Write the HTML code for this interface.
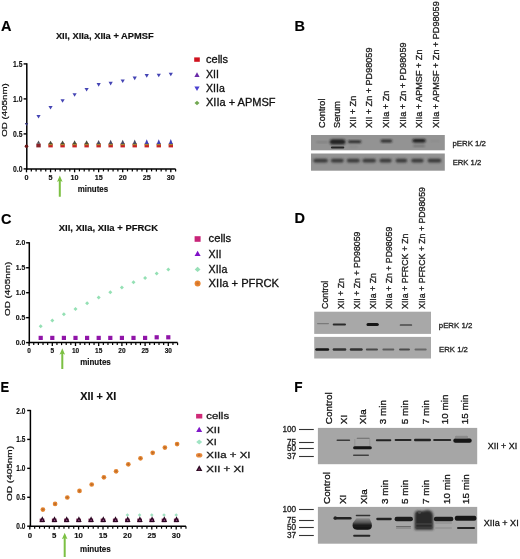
<!DOCTYPE html>
<html><head><meta charset="utf-8"><style>
html,body{margin:0;padding:0;background:#fff;}
body{width:520px;height:559px;overflow:hidden;}
svg{display:block;font-family:"Liberation Sans", sans-serif;will-change:transform;filter:blur(0.3px);}
</style></head><body>
<svg width="520" height="559" viewBox="0 0 520 559">
<rect width="520" height="559" fill="#fff"/>
<text x="1" y="30.8" font-size="14.5" font-weight="bold" text-anchor="start" fill="#000" stroke="#000" stroke-width="0.15">A</text>
<text x="294.6" y="30.5" font-size="14.5" font-weight="bold" text-anchor="start" fill="#000" stroke="#000" stroke-width="0.15">B</text>
<text x="0.9" y="223.6" font-size="14.5" font-weight="bold" text-anchor="start" fill="#000" stroke="#000" stroke-width="0.15">C</text>
<text x="294.6" y="223.4" font-size="14.5" font-weight="bold" text-anchor="start" fill="#000" stroke="#000" stroke-width="0.15">D</text>
<text x="0.6" y="391.9" font-size="14.5" font-weight="bold" text-anchor="start" fill="#000" stroke="#000" stroke-width="0.15" textLength="8.6" lengthAdjust="spacingAndGlyphs">E</text>
<text x="294.2" y="391.7" font-size="14.5" font-weight="bold" text-anchor="start" fill="#000" stroke="#000" stroke-width="0.15" textLength="8.3" lengthAdjust="spacingAndGlyphs">F</text>
<text x="55.9" y="39.4" font-size="9" font-weight="bold" text-anchor="start" fill="#111" stroke="#111" stroke-width="0.15" textLength="97.8" lengthAdjust="spacingAndGlyphs">XII, XIIa, XIIa + APMSF</text>
<line x1="26.8" y1="63.300000000000004" x2="26.8" y2="169.65" stroke="#000" stroke-width="1.5"/>
<line x1="23.6" y1="63.900000000000006" x2="26.8" y2="63.900000000000006" stroke="#000" stroke-width="1.4"/>
<text x="22.4" y="67.104" font-size="8.9" font-weight="bold" text-anchor="end" fill="#111" stroke="#111" stroke-width="0.15" textLength="9.4" lengthAdjust="spacingAndGlyphs">1.5</text>
<line x1="23.6" y1="98.9" x2="26.8" y2="98.9" stroke="#000" stroke-width="1.4"/>
<text x="22.4" y="102.104" font-size="8.9" font-weight="bold" text-anchor="end" fill="#111" stroke="#111" stroke-width="0.15" textLength="9.4" lengthAdjust="spacingAndGlyphs">1.0</text>
<line x1="23.6" y1="133.9" x2="26.8" y2="133.9" stroke="#000" stroke-width="1.4"/>
<text x="22.4" y="137.104" font-size="8.9" font-weight="bold" text-anchor="end" fill="#111" stroke="#111" stroke-width="0.15" textLength="9.4" lengthAdjust="spacingAndGlyphs">0.5</text>
<line x1="23.6" y1="168.9" x2="26.8" y2="168.9" stroke="#000" stroke-width="1.4"/>
<text x="22.4" y="172.104" font-size="8.9" font-weight="bold" text-anchor="end" fill="#111" stroke="#111" stroke-width="0.15" textLength="9.4" lengthAdjust="spacingAndGlyphs">0.0</text>
<line x1="26.05" y1="168.9" x2="175.60999999999999" y2="168.9" stroke="#000" stroke-width="1.5"/>
<line x1="26.5" y1="168.9" x2="26.5" y2="172.3" stroke="#000" stroke-width="1.3"/>
<line x1="31.31" y1="168.9" x2="31.31" y2="171.4" stroke="#000" stroke-width="1.2"/>
<line x1="36.12" y1="168.9" x2="36.12" y2="171.4" stroke="#000" stroke-width="1.2"/>
<line x1="40.93" y1="168.9" x2="40.93" y2="171.4" stroke="#000" stroke-width="1.2"/>
<line x1="45.739999999999995" y1="168.9" x2="45.739999999999995" y2="171.4" stroke="#000" stroke-width="1.2"/>
<line x1="50.55" y1="168.9" x2="50.55" y2="172.3" stroke="#000" stroke-width="1.3"/>
<line x1="55.36" y1="168.9" x2="55.36" y2="171.4" stroke="#000" stroke-width="1.2"/>
<line x1="60.169999999999995" y1="168.9" x2="60.169999999999995" y2="171.4" stroke="#000" stroke-width="1.2"/>
<line x1="64.97999999999999" y1="168.9" x2="64.97999999999999" y2="171.4" stroke="#000" stroke-width="1.2"/>
<line x1="69.78999999999999" y1="168.9" x2="69.78999999999999" y2="171.4" stroke="#000" stroke-width="1.2"/>
<line x1="74.6" y1="168.9" x2="74.6" y2="172.3" stroke="#000" stroke-width="1.3"/>
<line x1="79.41" y1="168.9" x2="79.41" y2="171.4" stroke="#000" stroke-width="1.2"/>
<line x1="84.22" y1="168.9" x2="84.22" y2="171.4" stroke="#000" stroke-width="1.2"/>
<line x1="89.03" y1="168.9" x2="89.03" y2="171.4" stroke="#000" stroke-width="1.2"/>
<line x1="93.83999999999999" y1="168.9" x2="93.83999999999999" y2="171.4" stroke="#000" stroke-width="1.2"/>
<line x1="98.64999999999999" y1="168.9" x2="98.64999999999999" y2="172.3" stroke="#000" stroke-width="1.3"/>
<line x1="103.46" y1="168.9" x2="103.46" y2="171.4" stroke="#000" stroke-width="1.2"/>
<line x1="108.27" y1="168.9" x2="108.27" y2="171.4" stroke="#000" stroke-width="1.2"/>
<line x1="113.08" y1="168.9" x2="113.08" y2="171.4" stroke="#000" stroke-width="1.2"/>
<line x1="117.88999999999999" y1="168.9" x2="117.88999999999999" y2="171.4" stroke="#000" stroke-width="1.2"/>
<line x1="122.69999999999999" y1="168.9" x2="122.69999999999999" y2="172.3" stroke="#000" stroke-width="1.3"/>
<line x1="127.50999999999999" y1="168.9" x2="127.50999999999999" y2="171.4" stroke="#000" stroke-width="1.2"/>
<line x1="132.32" y1="168.9" x2="132.32" y2="171.4" stroke="#000" stroke-width="1.2"/>
<line x1="137.13" y1="168.9" x2="137.13" y2="171.4" stroke="#000" stroke-width="1.2"/>
<line x1="141.94" y1="168.9" x2="141.94" y2="171.4" stroke="#000" stroke-width="1.2"/>
<line x1="146.75" y1="168.9" x2="146.75" y2="172.3" stroke="#000" stroke-width="1.3"/>
<line x1="151.56" y1="168.9" x2="151.56" y2="171.4" stroke="#000" stroke-width="1.2"/>
<line x1="156.36999999999998" y1="168.9" x2="156.36999999999998" y2="171.4" stroke="#000" stroke-width="1.2"/>
<line x1="161.17999999999998" y1="168.9" x2="161.17999999999998" y2="171.4" stroke="#000" stroke-width="1.2"/>
<line x1="165.98999999999998" y1="168.9" x2="165.98999999999998" y2="171.4" stroke="#000" stroke-width="1.2"/>
<line x1="170.79999999999998" y1="168.9" x2="170.79999999999998" y2="172.3" stroke="#000" stroke-width="1.3"/>
<line x1="175.60999999999999" y1="168.9" x2="175.60999999999999" y2="171.4" stroke="#000" stroke-width="1.2"/>
<text x="26.5" y="180.0" font-size="7.2" font-weight="bold" text-anchor="middle" fill="#111" stroke="#111" stroke-width="0.15">0</text>
<text x="50.55" y="180.0" font-size="7.2" font-weight="bold" text-anchor="middle" fill="#111" stroke="#111" stroke-width="0.15">5</text>
<text x="74.6" y="180.0" font-size="7.2" font-weight="bold" text-anchor="middle" fill="#111" stroke="#111" stroke-width="0.15">10</text>
<text x="98.64999999999999" y="180.0" font-size="7.2" font-weight="bold" text-anchor="middle" fill="#111" stroke="#111" stroke-width="0.15">15</text>
<text x="122.69999999999999" y="180.0" font-size="7.2" font-weight="bold" text-anchor="middle" fill="#111" stroke="#111" stroke-width="0.15">20</text>
<text x="146.75" y="180.0" font-size="7.2" font-weight="bold" text-anchor="middle" fill="#111" stroke="#111" stroke-width="0.15">25</text>
<text x="170.79999999999998" y="180.0" font-size="7.2" font-weight="bold" text-anchor="middle" fill="#111" stroke="#111" stroke-width="0.15">30</text>
<text x="77.8" y="192.4" font-size="8.2" font-weight="bold" text-anchor="start" fill="#111" stroke="#111" stroke-width="0.15" textLength="30.3" lengthAdjust="spacingAndGlyphs">minutes</text>
<text transform="translate(7.4,136.7) rotate(-90)" font-size="7.6" font-weight="normal" text-anchor="start" fill="#111" stroke="#111" stroke-width="0.22" textLength="53.4" lengthAdjust="spacingAndGlyphs">OD (405nm)</text>
<path d="M58.8,181.0 L58.8,196.8 L60.8,196.8 L60.8,181.0 L62.599999999999994,182.0 L59.8,175.5 L57.0,182.0 Z" fill="#7cc043"/>
<path d="M24.8,123.1 L26.5,126.1 L28.2,123.1 Z" fill="#303070"/>
<path d="M36.425,115.0 L38.525,118.6 L40.625,115.0 Z" fill="#4444b4"/>
<path d="M48.449999999999996,106.0 L50.55,109.6 L52.65,106.0 Z" fill="#4444b4"/>
<path d="M60.474999999999994,99.2 L62.574999999999996,102.8 L64.675,99.2 Z" fill="#4444b4"/>
<path d="M72.5,93.2 L74.6,96.8 L76.69999999999999,93.2 Z" fill="#4444b4"/>
<path d="M84.525,87.9 L86.625,91.5 L88.725,87.9 Z" fill="#4444b4"/>
<path d="M96.55,83.10000000000001 L98.64999999999999,86.7 L100.74999999999999,83.10000000000001 Z" fill="#4444b4"/>
<path d="M108.57499999999999,81.8 L110.67499999999998,85.39999999999999 L112.77499999999998,81.8 Z" fill="#4444b4"/>
<path d="M120.6,79.5 L122.69999999999999,83.1 L124.79999999999998,79.5 Z" fill="#4444b4"/>
<path d="M132.625,76.60000000000001 L134.725,80.2 L136.825,76.60000000000001 Z" fill="#4444b4"/>
<path d="M144.65,74.10000000000001 L146.75,77.7 L148.85,74.10000000000001 Z" fill="#4444b4"/>
<path d="M156.67499999999998,73.7 L158.77499999999998,77.3 L160.87499999999997,73.7 Z" fill="#4444b4"/>
<path d="M168.7,72.7 L170.79999999999998,76.3 L172.89999999999998,72.7 Z" fill="#4444b4"/>
<circle cx="26.5" cy="146.2" r="1.8" fill="#6a1a1a"/>
<rect x="36.324999999999996" y="143.6" width="4.4" height="3.8" fill="#8a2228"/>
<path d="M36.725,143.79999999999998 L38.525,140.6 L40.324999999999996,143.79999999999998 Z" fill="#505058"/>
<rect x="48.349999999999994" y="143.6" width="4.4" height="3.8" fill="#c82222"/>
<rect x="48.55" y="143.6" width="4.0" height="1.6" fill="#a08a34"/>
<path d="M48.55,143.9 L50.55,140.63636363636365 L52.55,143.9 Z" fill="#4a4a3a"/>
<rect x="60.37499999999999" y="143.6" width="4.4" height="3.8" fill="#c82222"/>
<rect x="60.574999999999996" y="143.6" width="4.0" height="1.6" fill="#a08a34"/>
<path d="M60.574999999999996,143.89999999999998 L62.574999999999996,140.4727272727273 L64.57499999999999,143.89999999999998 Z" fill="#4a4a3a"/>
<rect x="72.39999999999999" y="143.6" width="4.4" height="3.8" fill="#c82222"/>
<rect x="72.6" y="143.6" width="4.0" height="1.6" fill="#a08a34"/>
<path d="M72.6,143.90000000000003 L74.6,140.3090909090909 L76.6,143.90000000000003 Z" fill="#4a4a3a"/>
<rect x="84.425" y="143.6" width="4.4" height="3.8" fill="#c82222"/>
<rect x="84.625" y="143.6" width="4.0" height="1.6" fill="#a08a34"/>
<path d="M84.625,143.9 L86.625,140.14545454545456 L88.625,143.9 Z" fill="#4a4a3a"/>
<rect x="96.44999999999999" y="143.6" width="4.4" height="3.8" fill="#c82222"/>
<rect x="96.64999999999999" y="143.6" width="4.0" height="1.6" fill="#a08a34"/>
<path d="M96.64999999999999,143.89999999999998 L98.64999999999999,139.9818181818182 L100.64999999999999,143.89999999999998 Z" fill="#4a4a62"/>
<rect x="108.47499999999998" y="143.6" width="4.4" height="3.8" fill="#c82222"/>
<rect x="108.67499999999998" y="143.6" width="4.0" height="1.6" fill="#a08a34"/>
<path d="M108.67499999999998,143.9 L110.67499999999998,139.81818181818184 L112.67499999999998,143.9 Z" fill="#4a4a62"/>
<rect x="120.49999999999999" y="143.6" width="4.4" height="3.8" fill="#c82222"/>
<rect x="120.69999999999999" y="143.6" width="4.0" height="1.6" fill="#a08a34"/>
<path d="M120.69999999999999,143.9 L122.69999999999999,139.65454545454546 L124.69999999999999,143.9 Z" fill="#4a4a62"/>
<rect x="132.525" y="143.6" width="4.4" height="3.8" fill="#c82222"/>
<rect x="132.725" y="143.6" width="4.0" height="1.6" fill="#a08a34"/>
<path d="M132.725,143.89999999999998 L134.725,139.4909090909091 L136.725,143.89999999999998 Z" fill="#4a4a62"/>
<rect x="144.55" y="143.6" width="4.4" height="3.8" fill="#c82222"/>
<rect x="144.75" y="143.6" width="4.0" height="1.6" fill="#a08a34"/>
<path d="M144.75,143.9 L146.75,139.32727272727274 L148.75,143.9 Z" fill="#4040b4"/>
<rect x="156.575" y="143.6" width="4.4" height="3.8" fill="#c82222"/>
<rect x="156.77499999999998" y="143.6" width="4.0" height="1.6" fill="#a08a34"/>
<path d="M156.77499999999998,143.90000000000003 L158.77499999999998,139.16363636363639 L160.77499999999998,143.90000000000003 Z" fill="#4040b4"/>
<rect x="168.6" y="143.6" width="4.4" height="3.8" fill="#c82222"/>
<rect x="168.79999999999998" y="143.6" width="4.0" height="1.6" fill="#a08a34"/>
<path d="M168.79999999999998,143.89999999999998 L170.79999999999998,139.0 L172.79999999999998,143.89999999999998 Z" fill="#4040b4"/>
<rect x="194.2" y="57.4" width="5.6" height="4.4" fill="#d0121e"/>
<path d="M194.4,76.89999999999999 L197.0,72.3 L199.6,76.89999999999999 Z" fill="#6a2aa8"/>
<path d="M194.4,86.6 L197.0,91.0 L199.6,86.6 Z" fill="#4a40d0"/>
<path d="M194.5,103.0 L197.0,100.8 L199.5,103.0 L197.0,105.2 Z" fill="#72a852"/>
<text x="206.0" y="63.0" font-size="10.6" font-weight="normal" text-anchor="start" fill="#111" stroke="#111" stroke-width="0.3" textLength="22.1" lengthAdjust="spacingAndGlyphs">cells</text>
<text x="206.0" y="78.3" font-size="10.6" font-weight="normal" text-anchor="start" fill="#111" stroke="#111" stroke-width="0.3">XII</text>
<text x="206.0" y="92.3" font-size="10.6" font-weight="normal" text-anchor="start" fill="#111" stroke="#111" stroke-width="0.3">XIIa</text>
<text x="206.0" y="106.3" font-size="10.6" font-weight="normal" text-anchor="start" fill="#111" stroke="#111" stroke-width="0.3" textLength="69.6" lengthAdjust="spacingAndGlyphs">XIIa + APMSF</text>
<text x="58.8" y="231.2" font-size="9" font-weight="bold" text-anchor="start" fill="#111" stroke="#111" stroke-width="0.15" textLength="99.2" lengthAdjust="spacingAndGlyphs">XII, XIIa, XIIa + PFRCK</text>
<line x1="29.3" y1="242.20000000000002" x2="29.3" y2="343.35" stroke="#000" stroke-width="1.5"/>
<line x1="26.1" y1="242.8" x2="29.3" y2="242.8" stroke="#000" stroke-width="1.4"/>
<text x="25.3" y="245.17600000000002" font-size="6.6" font-weight="bold" text-anchor="end" fill="#111" stroke="#111" stroke-width="0.15" textLength="9.6" lengthAdjust="spacingAndGlyphs">2.0</text>
<line x1="26.1" y1="267.75" x2="29.3" y2="267.75" stroke="#000" stroke-width="1.4"/>
<text x="25.3" y="270.126" font-size="6.6" font-weight="bold" text-anchor="end" fill="#111" stroke="#111" stroke-width="0.15" textLength="9.6" lengthAdjust="spacingAndGlyphs">1.5</text>
<line x1="26.1" y1="292.70000000000005" x2="29.3" y2="292.70000000000005" stroke="#000" stroke-width="1.4"/>
<text x="25.3" y="295.076" font-size="6.6" font-weight="bold" text-anchor="end" fill="#111" stroke="#111" stroke-width="0.15" textLength="9.6" lengthAdjust="spacingAndGlyphs">1.0</text>
<line x1="26.1" y1="317.65000000000003" x2="29.3" y2="317.65000000000003" stroke="#000" stroke-width="1.4"/>
<text x="25.3" y="320.026" font-size="6.6" font-weight="bold" text-anchor="end" fill="#111" stroke="#111" stroke-width="0.15" textLength="9.6" lengthAdjust="spacingAndGlyphs">0.5</text>
<line x1="26.1" y1="342.6" x2="29.3" y2="342.6" stroke="#000" stroke-width="1.4"/>
<text x="25.3" y="344.976" font-size="6.6" font-weight="bold" text-anchor="end" fill="#111" stroke="#111" stroke-width="0.15" textLength="9.6" lengthAdjust="spacingAndGlyphs">0.0</text>
<line x1="28.55" y1="342.6" x2="177.57999999999998" y2="342.6" stroke="#000" stroke-width="1.5"/>
<line x1="29.1" y1="342.6" x2="29.1" y2="346.0" stroke="#000" stroke-width="1.3"/>
<line x1="33.74" y1="342.6" x2="33.74" y2="345.1" stroke="#000" stroke-width="1.2"/>
<line x1="38.38" y1="342.6" x2="38.38" y2="345.1" stroke="#000" stroke-width="1.2"/>
<line x1="43.019999999999996" y1="342.6" x2="43.019999999999996" y2="345.1" stroke="#000" stroke-width="1.2"/>
<line x1="47.66" y1="342.6" x2="47.66" y2="345.1" stroke="#000" stroke-width="1.2"/>
<line x1="52.3" y1="342.6" x2="52.3" y2="346.0" stroke="#000" stroke-width="1.3"/>
<line x1="56.94" y1="342.6" x2="56.94" y2="345.1" stroke="#000" stroke-width="1.2"/>
<line x1="61.58" y1="342.6" x2="61.58" y2="345.1" stroke="#000" stroke-width="1.2"/>
<line x1="66.22" y1="342.6" x2="66.22" y2="345.1" stroke="#000" stroke-width="1.2"/>
<line x1="70.86" y1="342.6" x2="70.86" y2="345.1" stroke="#000" stroke-width="1.2"/>
<line x1="75.5" y1="342.6" x2="75.5" y2="346.0" stroke="#000" stroke-width="1.3"/>
<line x1="80.14" y1="342.6" x2="80.14" y2="345.1" stroke="#000" stroke-width="1.2"/>
<line x1="84.78" y1="342.6" x2="84.78" y2="345.1" stroke="#000" stroke-width="1.2"/>
<line x1="89.41999999999999" y1="342.6" x2="89.41999999999999" y2="345.1" stroke="#000" stroke-width="1.2"/>
<line x1="94.06" y1="342.6" x2="94.06" y2="345.1" stroke="#000" stroke-width="1.2"/>
<line x1="98.69999999999999" y1="342.6" x2="98.69999999999999" y2="346.0" stroke="#000" stroke-width="1.3"/>
<line x1="103.34" y1="342.6" x2="103.34" y2="345.1" stroke="#000" stroke-width="1.2"/>
<line x1="107.97999999999999" y1="342.6" x2="107.97999999999999" y2="345.1" stroke="#000" stroke-width="1.2"/>
<line x1="112.62" y1="342.6" x2="112.62" y2="345.1" stroke="#000" stroke-width="1.2"/>
<line x1="117.25999999999999" y1="342.6" x2="117.25999999999999" y2="345.1" stroke="#000" stroke-width="1.2"/>
<line x1="121.9" y1="342.6" x2="121.9" y2="346.0" stroke="#000" stroke-width="1.3"/>
<line x1="126.53999999999999" y1="342.6" x2="126.53999999999999" y2="345.1" stroke="#000" stroke-width="1.2"/>
<line x1="131.18" y1="342.6" x2="131.18" y2="345.1" stroke="#000" stroke-width="1.2"/>
<line x1="135.82" y1="342.6" x2="135.82" y2="345.1" stroke="#000" stroke-width="1.2"/>
<line x1="140.45999999999998" y1="342.6" x2="140.45999999999998" y2="345.1" stroke="#000" stroke-width="1.2"/>
<line x1="145.1" y1="342.6" x2="145.1" y2="346.0" stroke="#000" stroke-width="1.3"/>
<line x1="149.73999999999998" y1="342.6" x2="149.73999999999998" y2="345.1" stroke="#000" stroke-width="1.2"/>
<line x1="154.38" y1="342.6" x2="154.38" y2="345.1" stroke="#000" stroke-width="1.2"/>
<line x1="159.01999999999998" y1="342.6" x2="159.01999999999998" y2="345.1" stroke="#000" stroke-width="1.2"/>
<line x1="163.66" y1="342.6" x2="163.66" y2="345.1" stroke="#000" stroke-width="1.2"/>
<line x1="168.29999999999998" y1="342.6" x2="168.29999999999998" y2="346.0" stroke="#000" stroke-width="1.3"/>
<line x1="172.94" y1="342.6" x2="172.94" y2="345.1" stroke="#000" stroke-width="1.2"/>
<line x1="177.57999999999998" y1="342.6" x2="177.57999999999998" y2="345.1" stroke="#000" stroke-width="1.2"/>
<text x="29.1" y="353.2" font-size="6.5" font-weight="bold" text-anchor="middle" fill="#111" stroke="#111" stroke-width="0.15">0</text>
<text x="52.3" y="353.2" font-size="6.5" font-weight="bold" text-anchor="middle" fill="#111" stroke="#111" stroke-width="0.15">5</text>
<text x="75.5" y="353.2" font-size="6.5" font-weight="bold" text-anchor="middle" fill="#111" stroke="#111" stroke-width="0.15">10</text>
<text x="98.69999999999999" y="353.2" font-size="6.5" font-weight="bold" text-anchor="middle" fill="#111" stroke="#111" stroke-width="0.15">15</text>
<text x="121.9" y="353.2" font-size="6.5" font-weight="bold" text-anchor="middle" fill="#111" stroke="#111" stroke-width="0.15">20</text>
<text x="145.1" y="353.2" font-size="6.5" font-weight="bold" text-anchor="middle" fill="#111" stroke="#111" stroke-width="0.15">25</text>
<text x="168.29999999999998" y="353.2" font-size="6.5" font-weight="bold" text-anchor="middle" fill="#111" stroke="#111" stroke-width="0.15">30</text>
<text x="80.2" y="365.2" font-size="8.2" font-weight="bold" text-anchor="start" fill="#111" stroke="#111" stroke-width="0.15" textLength="30.6" lengthAdjust="spacingAndGlyphs">minutes</text>
<text transform="translate(9.8,316.0) rotate(-90)" font-size="7.6" font-weight="normal" text-anchor="start" fill="#111" stroke="#111" stroke-width="0.22" textLength="54.3" lengthAdjust="spacingAndGlyphs">OD (405nm)</text>
<path d="M61.3,353.8 L61.3,369.0 L63.3,369.0 L63.3,353.8 L65.1,354.8 L62.3,348.3 L59.5,354.8 Z" fill="#7cc043"/>
<path d="M38.7,326.3 L40.7,324.3 L42.7,326.3 L40.7,328.3 Z" fill="#94e0b4"/>
<path d="M50.3,320.6 L52.3,318.6 L54.3,320.6 L52.3,322.6 Z" fill="#94e0b4"/>
<path d="M61.9,314.2 L63.9,312.2 L65.9,314.2 L63.9,316.2 Z" fill="#94e0b4"/>
<path d="M73.5,309.0 L75.5,307.0 L77.5,309.0 L75.5,311.0 Z" fill="#94e0b4"/>
<path d="M85.1,303.3 L87.1,301.3 L89.1,303.3 L87.1,305.3 Z" fill="#94e0b4"/>
<path d="M96.69999999999999,297.5 L98.69999999999999,295.5 L100.69999999999999,297.5 L98.69999999999999,299.5 Z" fill="#94e0b4"/>
<path d="M108.30000000000001,292.3 L110.30000000000001,290.3 L112.30000000000001,292.3 L110.30000000000001,294.3 Z" fill="#94e0b4"/>
<path d="M119.9,287.4 L121.9,285.4 L123.9,287.4 L121.9,289.4 Z" fill="#94e0b4"/>
<path d="M131.5,282.2 L133.5,280.2 L135.5,282.2 L133.5,284.2 Z" fill="#94e0b4"/>
<path d="M143.1,277.9 L145.1,275.9 L147.1,277.9 L145.1,279.9 Z" fill="#94e0b4"/>
<path d="M154.7,273.6 L156.7,271.6 L158.7,273.6 L156.7,275.6 Z" fill="#94e0b4"/>
<path d="M166.29999999999998,269.5 L168.29999999999998,267.5 L170.29999999999998,269.5 L168.29999999999998,271.5 Z" fill="#94e0b4"/>
<rect x="38.6" y="335.79999999999995" width="4.2" height="4.2" fill="#9014a8"/>
<rect x="50.199999999999996" y="335.79999999999995" width="4.2" height="4.2" fill="#9014a8"/>
<rect x="61.8" y="335.79999999999995" width="4.2" height="4.2" fill="#9014a8"/>
<rect x="73.4" y="335.79999999999995" width="4.2" height="4.2" fill="#9014a8"/>
<rect x="85.0" y="335.79999999999995" width="4.2" height="4.2" fill="#9014a8"/>
<rect x="96.6" y="335.79999999999995" width="4.2" height="4.2" fill="#9014a8"/>
<rect x="108.20000000000002" y="335.79999999999995" width="4.2" height="4.2" fill="#9014a8"/>
<rect x="119.80000000000001" y="335.79999999999995" width="4.2" height="4.2" fill="#9014a8"/>
<rect x="131.4" y="335.79999999999995" width="4.2" height="4.2" fill="#9014a8"/>
<rect x="143.0" y="335.79999999999995" width="4.2" height="4.2" fill="#9014a8"/>
<rect x="154.6" y="335.2" width="4.2" height="4.2" fill="#9014a8"/>
<rect x="166.2" y="335.2" width="4.2" height="4.2" fill="#9014a8"/>
<rect x="194.6" y="236.2" width="6.0" height="5.6" fill="#c82478"/>
<path d="M194.6,255.9 L197.6,250.70000000000002 L200.6,255.9 Z" fill="#8010c8"/>
<path d="M194.7,269.4 L197.6,266.7 L200.5,269.4 L197.6,272.09999999999997 Z" fill="#98e0b8"/>
<circle cx="197.6" cy="283.4" r="3.0" fill="#e8842e"/>
<circle cx="197.6" cy="283.4" r="1.2" fill="#c87030"/>
<text x="208.6" y="242.4" font-size="10.6" font-weight="normal" text-anchor="start" fill="#111" stroke="#111" stroke-width="0.3" textLength="22.5" lengthAdjust="spacingAndGlyphs">cells</text>
<text x="208.6" y="257.6" font-size="10.6" font-weight="normal" text-anchor="start" fill="#111" stroke="#111" stroke-width="0.3">XII</text>
<text x="208.6" y="273.0" font-size="10.6" font-weight="normal" text-anchor="start" fill="#111" stroke="#111" stroke-width="0.3">XIIa</text>
<text x="208.6" y="287.2" font-size="10.6" font-weight="normal" text-anchor="start" fill="#111" stroke="#111" stroke-width="0.3" textLength="70.4" lengthAdjust="spacingAndGlyphs">XIIa + PFRCK</text>
<text x="80.2" y="400.0" font-size="10.4" font-weight="bold" text-anchor="start" fill="#111" stroke="#111" stroke-width="0.15" textLength="36.0" lengthAdjust="spacingAndGlyphs">XII + XI</text>
<line x1="30.4" y1="409.90000000000003" x2="30.4" y2="526.95" stroke="#000" stroke-width="1.5"/>
<line x1="27.2" y1="410.50000000000006" x2="30.4" y2="410.50000000000006" stroke="#000" stroke-width="1.4"/>
<text x="25.3" y="413.52400000000006" font-size="8.4" font-weight="bold" text-anchor="end" fill="#111" stroke="#111" stroke-width="0.15" textLength="9.0" lengthAdjust="spacingAndGlyphs">2.0</text>
<line x1="27.2" y1="439.42500000000007" x2="30.4" y2="439.42500000000007" stroke="#000" stroke-width="1.4"/>
<text x="25.3" y="442.44900000000007" font-size="8.4" font-weight="bold" text-anchor="end" fill="#111" stroke="#111" stroke-width="0.15" textLength="9.0" lengthAdjust="spacingAndGlyphs">1.5</text>
<line x1="27.2" y1="468.35" x2="30.4" y2="468.35" stroke="#000" stroke-width="1.4"/>
<text x="25.3" y="471.374" font-size="8.4" font-weight="bold" text-anchor="end" fill="#111" stroke="#111" stroke-width="0.15" textLength="9.0" lengthAdjust="spacingAndGlyphs">1.0</text>
<line x1="27.2" y1="497.27500000000003" x2="30.4" y2="497.27500000000003" stroke="#000" stroke-width="1.4"/>
<text x="25.3" y="500.29900000000004" font-size="8.4" font-weight="bold" text-anchor="end" fill="#111" stroke="#111" stroke-width="0.15" textLength="9.0" lengthAdjust="spacingAndGlyphs">0.5</text>
<line x1="27.2" y1="526.2" x2="30.4" y2="526.2" stroke="#000" stroke-width="1.4"/>
<text x="25.3" y="529.224" font-size="8.4" font-weight="bold" text-anchor="end" fill="#111" stroke="#111" stroke-width="0.15" textLength="9.0" lengthAdjust="spacingAndGlyphs">0.0</text>
<line x1="29.65" y1="526.2" x2="185.96" y2="526.2" stroke="#000" stroke-width="1.5"/>
<line x1="29.8" y1="526.2" x2="29.8" y2="529.6" stroke="#000" stroke-width="1.3"/>
<line x1="34.68" y1="526.2" x2="34.68" y2="528.7" stroke="#000" stroke-width="1.2"/>
<line x1="39.56" y1="526.2" x2="39.56" y2="528.7" stroke="#000" stroke-width="1.2"/>
<line x1="44.44" y1="526.2" x2="44.44" y2="528.7" stroke="#000" stroke-width="1.2"/>
<line x1="49.32" y1="526.2" x2="49.32" y2="528.7" stroke="#000" stroke-width="1.2"/>
<line x1="54.2" y1="526.2" x2="54.2" y2="529.6" stroke="#000" stroke-width="1.3"/>
<line x1="59.08" y1="526.2" x2="59.08" y2="528.7" stroke="#000" stroke-width="1.2"/>
<line x1="63.959999999999994" y1="526.2" x2="63.959999999999994" y2="528.7" stroke="#000" stroke-width="1.2"/>
<line x1="68.84" y1="526.2" x2="68.84" y2="528.7" stroke="#000" stroke-width="1.2"/>
<line x1="73.72" y1="526.2" x2="73.72" y2="528.7" stroke="#000" stroke-width="1.2"/>
<line x1="78.6" y1="526.2" x2="78.6" y2="529.6" stroke="#000" stroke-width="1.3"/>
<line x1="83.48" y1="526.2" x2="83.48" y2="528.7" stroke="#000" stroke-width="1.2"/>
<line x1="88.36" y1="526.2" x2="88.36" y2="528.7" stroke="#000" stroke-width="1.2"/>
<line x1="93.24" y1="526.2" x2="93.24" y2="528.7" stroke="#000" stroke-width="1.2"/>
<line x1="98.11999999999999" y1="526.2" x2="98.11999999999999" y2="528.7" stroke="#000" stroke-width="1.2"/>
<line x1="103.0" y1="526.2" x2="103.0" y2="529.6" stroke="#000" stroke-width="1.3"/>
<line x1="107.88" y1="526.2" x2="107.88" y2="528.7" stroke="#000" stroke-width="1.2"/>
<line x1="112.75999999999999" y1="526.2" x2="112.75999999999999" y2="528.7" stroke="#000" stroke-width="1.2"/>
<line x1="117.64" y1="526.2" x2="117.64" y2="528.7" stroke="#000" stroke-width="1.2"/>
<line x1="122.52" y1="526.2" x2="122.52" y2="528.7" stroke="#000" stroke-width="1.2"/>
<line x1="127.39999999999999" y1="526.2" x2="127.39999999999999" y2="529.6" stroke="#000" stroke-width="1.3"/>
<line x1="132.28" y1="526.2" x2="132.28" y2="528.7" stroke="#000" stroke-width="1.2"/>
<line x1="137.16" y1="526.2" x2="137.16" y2="528.7" stroke="#000" stroke-width="1.2"/>
<line x1="142.04" y1="526.2" x2="142.04" y2="528.7" stroke="#000" stroke-width="1.2"/>
<line x1="146.92000000000002" y1="526.2" x2="146.92000000000002" y2="528.7" stroke="#000" stroke-width="1.2"/>
<line x1="151.8" y1="526.2" x2="151.8" y2="529.6" stroke="#000" stroke-width="1.3"/>
<line x1="156.68" y1="526.2" x2="156.68" y2="528.7" stroke="#000" stroke-width="1.2"/>
<line x1="161.56" y1="526.2" x2="161.56" y2="528.7" stroke="#000" stroke-width="1.2"/>
<line x1="166.44" y1="526.2" x2="166.44" y2="528.7" stroke="#000" stroke-width="1.2"/>
<line x1="171.32000000000002" y1="526.2" x2="171.32000000000002" y2="528.7" stroke="#000" stroke-width="1.2"/>
<line x1="176.20000000000002" y1="526.2" x2="176.20000000000002" y2="529.6" stroke="#000" stroke-width="1.3"/>
<line x1="181.08" y1="526.2" x2="181.08" y2="528.7" stroke="#000" stroke-width="1.2"/>
<line x1="185.96" y1="526.2" x2="185.96" y2="528.7" stroke="#000" stroke-width="1.2"/>
<text x="29.8" y="538.0" font-size="7.8" font-weight="bold" text-anchor="middle" fill="#111" stroke="#111" stroke-width="0.15">0</text>
<text x="54.2" y="538.0" font-size="7.8" font-weight="bold" text-anchor="middle" fill="#111" stroke="#111" stroke-width="0.15">5</text>
<text x="78.6" y="538.0" font-size="7.8" font-weight="bold" text-anchor="middle" fill="#111" stroke="#111" stroke-width="0.15">10</text>
<text x="103.0" y="538.0" font-size="7.8" font-weight="bold" text-anchor="middle" fill="#111" stroke="#111" stroke-width="0.15">15</text>
<text x="127.39999999999999" y="538.0" font-size="7.8" font-weight="bold" text-anchor="middle" fill="#111" stroke="#111" stroke-width="0.15">20</text>
<text x="151.8" y="538.0" font-size="7.8" font-weight="bold" text-anchor="middle" fill="#111" stroke="#111" stroke-width="0.15">25</text>
<text x="176.20000000000002" y="538.0" font-size="7.8" font-weight="bold" text-anchor="middle" fill="#111" stroke="#111" stroke-width="0.15">30</text>
<text x="80.0" y="552.0" font-size="8.2" font-weight="bold" text-anchor="start" fill="#111" stroke="#111" stroke-width="0.15" textLength="30.8" lengthAdjust="spacingAndGlyphs">minutes</text>
<text transform="translate(12.1,500.9) rotate(-90)" font-size="7.6" font-weight="normal" text-anchor="start" fill="#111" stroke="#111" stroke-width="0.22" textLength="54.9" lengthAdjust="spacingAndGlyphs">OD (405nm)</text>
<path d="M63.7,538.3 L63.7,557.0 L65.7,557.0 L65.7,538.3 L67.5,539.3 L64.7,532.8 L61.900000000000006,539.3 Z" fill="#7cc043"/>
<circle cx="42.9" cy="509.6" r="2.35" fill="#e2832e"/>
<circle cx="42.9" cy="509.6" r="1.0" fill="#b8692a"/>
<circle cx="55.099999999999994" cy="503.90000000000003" r="2.35" fill="#e2832e"/>
<circle cx="55.099999999999994" cy="503.90000000000003" r="1.0" fill="#b8692a"/>
<circle cx="67.3" cy="497.5" r="2.35" fill="#e2832e"/>
<circle cx="67.3" cy="497.5" r="1.0" fill="#b8692a"/>
<circle cx="79.5" cy="490.90000000000003" r="2.35" fill="#e2832e"/>
<circle cx="79.5" cy="490.90000000000003" r="1.0" fill="#b8692a"/>
<circle cx="91.7" cy="484.5" r="2.35" fill="#e2832e"/>
<circle cx="91.7" cy="484.5" r="1.0" fill="#b8692a"/>
<circle cx="103.89999999999999" cy="477.3" r="2.35" fill="#e2832e"/>
<circle cx="103.89999999999999" cy="477.3" r="1.0" fill="#b8692a"/>
<circle cx="116.1" cy="471.3" r="2.35" fill="#e2832e"/>
<circle cx="116.1" cy="471.3" r="1.0" fill="#b8692a"/>
<circle cx="128.29999999999998" cy="464.3" r="2.35" fill="#e2832e"/>
<circle cx="128.29999999999998" cy="464.3" r="1.0" fill="#b8692a"/>
<circle cx="140.5" cy="458.3" r="2.35" fill="#e2832e"/>
<circle cx="140.5" cy="458.3" r="1.0" fill="#b8692a"/>
<circle cx="152.7" cy="452.8" r="2.35" fill="#e2832e"/>
<circle cx="152.7" cy="452.8" r="1.0" fill="#b8692a"/>
<circle cx="164.89999999999998" cy="447.6" r="2.35" fill="#e2832e"/>
<circle cx="164.89999999999998" cy="447.6" r="1.0" fill="#b8692a"/>
<circle cx="177.09999999999997" cy="444.1" r="2.35" fill="#e2832e"/>
<circle cx="177.09999999999997" cy="444.1" r="1.0" fill="#b8692a"/>
<rect x="39.7" y="518.6" width="4.6" height="3.6" fill="#701848"/>
<path d="M39.5,522.1 L42.3,516.3000000000001 L45.099999999999994,522.1 Z" fill="#2a0822"/>
<path d="M41.4,521.0 L42.3,519.0 L43.199999999999996,521.0 Z" fill="#9a4a8a"/>
<rect x="51.900000000000006" y="518.6" width="4.6" height="3.6" fill="#701848"/>
<path d="M51.7,522.1 L54.5,516.3000000000001 L57.3,522.1 Z" fill="#2a0822"/>
<path d="M53.6,521.0 L54.5,519.0 L55.4,521.0 Z" fill="#9a4a8a"/>
<rect x="64.1" y="518.6" width="4.6" height="3.6" fill="#701848"/>
<path d="M63.89999999999999,522.1 L66.69999999999999,516.3000000000001 L69.49999999999999,522.1 Z" fill="#2a0822"/>
<path d="M65.79999999999998,521.0 L66.69999999999999,519.0 L67.6,521.0 Z" fill="#9a4a8a"/>
<rect x="76.3" y="518.6" width="4.6" height="3.6" fill="#701848"/>
<path d="M76.1,522.1 L78.89999999999999,516.3000000000001 L81.69999999999999,522.1 Z" fill="#2a0822"/>
<path d="M77.99999999999999,521.0 L78.89999999999999,519.0 L79.8,521.0 Z" fill="#9a4a8a"/>
<rect x="88.5" y="518.6" width="4.6" height="3.6" fill="#701848"/>
<path d="M88.3,522.1 L91.1,516.3000000000001 L93.89999999999999,522.1 Z" fill="#2a0822"/>
<path d="M90.19999999999999,521.0 L91.1,519.0 L92.0,521.0 Z" fill="#9a4a8a"/>
<rect x="100.69999999999999" y="518.6" width="4.6" height="3.6" fill="#701848"/>
<path d="M100.49999999999999,522.1 L103.29999999999998,516.3000000000001 L106.09999999999998,522.1 Z" fill="#2a0822"/>
<path d="M102.39999999999998,521.0 L103.29999999999998,519.0 L104.19999999999999,521.0 Z" fill="#9a4a8a"/>
<rect x="112.89999999999999" y="518.6" width="4.6" height="3.6" fill="#701848"/>
<path d="M112.69999999999999,522.1 L115.49999999999999,516.3000000000001 L118.29999999999998,522.1 Z" fill="#2a0822"/>
<path d="M114.59999999999998,521.0 L115.49999999999999,519.0 L116.39999999999999,521.0 Z" fill="#9a4a8a"/>
<path d="M125.6,515.0 L127.39999999999999,513.3 L129.2,515.0 L127.39999999999999,516.7 Z" fill="#a0e0c0"/>
<rect x="125.1" y="518.6" width="4.6" height="3.6" fill="#701848"/>
<path d="M124.89999999999999,522.1 L127.69999999999999,516.3000000000001 L130.5,522.1 Z" fill="#2a0822"/>
<path d="M126.79999999999998,521.0 L127.69999999999999,519.0 L128.6,521.0 Z" fill="#9a4a8a"/>
<path d="M137.79999999999998,515.0 L139.6,513.3 L141.4,515.0 L139.6,516.7 Z" fill="#a0e0c0"/>
<rect x="137.29999999999998" y="518.6" width="4.6" height="3.6" fill="#701848"/>
<path d="M137.1,522.1 L139.9,516.3000000000001 L142.70000000000002,522.1 Z" fill="#2a0822"/>
<path d="M139.0,521.0 L139.9,519.0 L140.8,521.0 Z" fill="#9a4a8a"/>
<path d="M150.0,515.0 L151.8,513.3 L153.60000000000002,515.0 L151.8,516.7 Z" fill="#a0e0c0"/>
<rect x="149.5" y="518.6" width="4.6" height="3.6" fill="#701848"/>
<path d="M149.3,522.1 L152.10000000000002,516.3000000000001 L154.90000000000003,522.1 Z" fill="#2a0822"/>
<path d="M151.20000000000002,521.0 L152.10000000000002,519.0 L153.00000000000003,521.0 Z" fill="#9a4a8a"/>
<path d="M162.2,515.0 L164.0,513.3 L165.8,515.0 L164.0,516.7 Z" fill="#a0e0c0"/>
<rect x="161.7" y="518.6" width="4.6" height="3.6" fill="#701848"/>
<path d="M161.5,522.1 L164.3,516.3000000000001 L167.10000000000002,522.1 Z" fill="#2a0822"/>
<path d="M163.4,521.0 L164.3,519.0 L165.20000000000002,521.0 Z" fill="#9a4a8a"/>
<path d="M174.39999999999998,515.0 L176.2,513.3 L178.0,515.0 L176.2,516.7 Z" fill="#a0e0c0"/>
<rect x="173.89999999999998" y="518.6" width="4.6" height="3.6" fill="#701848"/>
<path d="M173.7,522.1 L176.5,516.3000000000001 L179.3,522.1 Z" fill="#2a0822"/>
<path d="M175.6,521.0 L176.5,519.0 L177.4,521.0 Z" fill="#9a4a8a"/>
<rect x="196.1" y="413.9" width="6.2" height="4.6" fill="#d02a78"/>
<path d="M196.2,432.09999999999997 L199.2,426.7 L202.2,432.09999999999997 Z" fill="#8018c8"/>
<path d="M196.2,442.0 L199.2,439.5 L202.2,442.0 L199.2,444.5 Z" fill="#a0e4c4"/>
<ellipse cx="199.2" cy="455.2" rx="3.2" ry="2.3" fill="#e88a3c"/>
<ellipse cx="199.2" cy="455.2" rx="1.4" ry="0.9" fill="#c06a30"/>
<path d="M196.0,471.09999999999997 L199.2,465.3 L202.39999999999998,471.09999999999997 Z" fill="#2a0a20"/>
<path d="M198.0,470.2 L199.2,467.8 L200.39999999999998,470.2 Z" fill="#7a3060"/>
<text x="206.3" y="419.4" font-size="8.8" font-weight="normal" text-anchor="start" fill="#1a1a1a" stroke="#1a1a1a" stroke-width="0.3" textLength="22.8" lengthAdjust="spacingAndGlyphs">cells</text>
<text x="206.3" y="433.4" font-size="8.8" font-weight="normal" text-anchor="start" fill="#1a1a1a" stroke="#1a1a1a" stroke-width="0.3" textLength="13.8" lengthAdjust="spacingAndGlyphs">XII</text>
<text x="206.3" y="445.4" font-size="8.8" font-weight="normal" text-anchor="start" fill="#1a1a1a" stroke="#1a1a1a" stroke-width="0.3" textLength="10.4" lengthAdjust="spacingAndGlyphs">XI</text>
<text x="206.3" y="458.0" font-size="8.8" font-weight="normal" text-anchor="start" fill="#1a1a1a" stroke="#1a1a1a" stroke-width="0.3" textLength="44.2" lengthAdjust="spacingAndGlyphs">XIIa + XI</text>
<text x="206.3" y="471.5" font-size="8.8" font-weight="normal" text-anchor="start" fill="#1a1a1a" stroke="#1a1a1a" stroke-width="0.3" textLength="38.0" lengthAdjust="spacingAndGlyphs">XII + XI</text>
<defs><filter id="b1" x="-50%" y="-200%" width="200%" height="500%"><feGaussianBlur stdDeviation="0.75"/></filter><filter id="b2" x="-50%" y="-50%" width="200%" height="200%"><feGaussianBlur stdDeviation="0.85"/></filter><filter id="b3" x="-50%" y="-50%" width="200%" height="200%"><feGaussianBlur stdDeviation="0.4"/></filter><linearGradient id="xia" x1="0" y1="0" x2="0" y2="1"><stop offset="0" stop-color="#8c8c8c"/><stop offset="0.35" stop-color="#5a5a5a"/><stop offset="0.6" stop-color="#1e1e1e"/><stop offset="1" stop-color="#141414"/></linearGradient></defs>
<rect x="311.0" y="135.0" width="133.8" height="15.3" fill="#939393"/>
<rect x="311.0" y="153.5" width="133.8" height="17.2" fill="#939393"/>
<rect x="316" y="141.4" width="12.199999999999989" height="1.4" rx="0.7" fill="#767676" opacity="1.0" filter="url(#b2)"/>
<rect x="329.8" y="139.20000000000002" width="15.599999999999966" height="5.4" rx="2.5" fill="#202020" opacity="1.0" filter="url(#b2)"/>
<rect x="330.9" y="146.5" width="13.400000000000034" height="2.0" rx="1.0" fill="#262626" opacity="1.0" filter="url(#b1)"/>
<rect x="348.1" y="140.60000000000002" width="13.099999999999966" height="2.4" rx="1.2" fill="#1e1e1e" opacity="1.0" filter="url(#b2)"/>
<rect x="349" y="145.3" width="9" height="3.0" rx="1.5" fill="#8a8a8a" opacity="1.0" filter="url(#b2)"/>
<rect x="380.7" y="139.8" width="11.400000000000034" height="2.4" rx="1.2" fill="#1e1e1e" opacity="1.0" filter="url(#b2)"/>
<rect x="412.4" y="139.0" width="13.300000000000011" height="3.6" rx="1.8" fill="#141414" opacity="1.0" filter="url(#b2)"/>
<rect x="413" y="145.1" width="12" height="1.8" rx="0.9" fill="#707070" opacity="1.0" filter="url(#b2)"/>
<rect x="430" y="140.5" width="10" height="1.4" rx="0.7" fill="#8a8a8a" opacity="1.0" filter="url(#b2)"/>
<rect x="313.4" y="158.7" width="14.5" height="3.8" rx="1.9" fill="#383838" opacity="1.0" filter="url(#b2)"/>
<rect x="330.9" y="158.7" width="12.800000000000011" height="3.8" rx="1.9" fill="#383838" opacity="1.0" filter="url(#b2)"/>
<rect x="346.8" y="158.7" width="13.0" height="3.8" rx="1.9" fill="#383838" opacity="1.0" filter="url(#b2)"/>
<rect x="362.5" y="158.7" width="13.5" height="3.8" rx="1.9" fill="#383838" opacity="1.0" filter="url(#b2)"/>
<rect x="379.5" y="158.7" width="12.100000000000023" height="3.8" rx="1.9" fill="#383838" opacity="1.0" filter="url(#b2)"/>
<rect x="395.6" y="158.7" width="11.599999999999966" height="3.8" rx="1.9" fill="#383838" opacity="1.0" filter="url(#b2)"/>
<rect x="411.2" y="158.7" width="12.400000000000034" height="3.8" rx="1.9" fill="#383838" opacity="1.0" filter="url(#b2)"/>
<rect x="427.6" y="158.7" width="13.699999999999989" height="3.8" rx="1.9" fill="#383838" opacity="1.0" filter="url(#b2)"/>
<text x="452.5" y="145.9" font-size="7.8" font-weight="normal" text-anchor="start" fill="#222" stroke="#222" stroke-width="0.3" textLength="33.4" lengthAdjust="spacingAndGlyphs">pERK 1/2</text>
<text x="452.7" y="165.2" font-size="7.8" font-weight="normal" text-anchor="start" fill="#222" stroke="#222" stroke-width="0.3" textLength="28.6" lengthAdjust="spacingAndGlyphs">ERK 1/2</text>
<text transform="translate(324.5,127.9) rotate(-90)" font-size="9.1" font-weight="normal" text-anchor="start" fill="#1a1a1a" stroke="#1a1a1a" stroke-width="0.3">Control</text>
<text transform="translate(340.09999999999997,127.9) rotate(-90)" font-size="9.1" font-weight="normal" text-anchor="start" fill="#1a1a1a" stroke="#1a1a1a" stroke-width="0.3">Serum</text>
<text transform="translate(356.09999999999997,127.9) rotate(-90)" font-size="9.1" font-weight="normal" text-anchor="start" fill="#1a1a1a" stroke="#1a1a1a" stroke-width="0.3">XII + Zn</text>
<text transform="translate(372.4,127.9) rotate(-90)" font-size="9.1" font-weight="normal" text-anchor="start" fill="#1a1a1a" stroke="#1a1a1a" stroke-width="0.3">XII + Zn + PD98059</text>
<text transform="translate(389.4,127.9) rotate(-90)" font-size="9.1" font-weight="normal" text-anchor="start" fill="#1a1a1a" stroke="#1a1a1a" stroke-width="0.3">XIIa + Zn</text>
<text transform="translate(405.7,127.9) rotate(-90)" font-size="9.1" font-weight="normal" text-anchor="start" fill="#1a1a1a" stroke="#1a1a1a" stroke-width="0.3">XIIa + Zn + PD98059</text>
<text transform="translate(421.7,127.9) rotate(-90)" font-size="9.1" font-weight="normal" text-anchor="start" fill="#1a1a1a" stroke="#1a1a1a" stroke-width="0.3">XIIa + APMSF + Zn</text>
<text transform="translate(438.59999999999997,127.9) rotate(-90)" font-size="9.1" font-weight="normal" text-anchor="start" fill="#1a1a1a" stroke="#1a1a1a" stroke-width="0.3">XIIa + APMSF + Zn + PD98059</text>
<rect x="314.2" y="311.7" width="116.8" height="22.2" fill="#a8a8a8"/>
<rect x="314.2" y="336.9" width="116.8" height="21.6" fill="#a8a8a8"/>
<rect x="317" y="323.0" width="12" height="1.2" rx="0.6" fill="#7a7a7a" opacity="1.0" filter="url(#b1)"/>
<rect x="332.7" y="323.4" width="13.300000000000011" height="2.0" rx="1.0" fill="#2a2a2a" opacity="1.0" filter="url(#b1)"/>
<rect x="366.5" y="323.1" width="12.300000000000011" height="3.0" rx="1.5" fill="#141414" opacity="1.0" filter="url(#b1)"/>
<rect x="399.7" y="324.15" width="12.5" height="1.7" rx="0.85" fill="#4a4a4a" opacity="1.0" filter="url(#b1)"/>
<rect x="315.2" y="348.2" width="14.0" height="2.6" rx="1.3" fill="#151515" opacity="1.0" filter="url(#b1)"/>
<rect x="332.7" y="348.3" width="13.600000000000023" height="2.4" rx="1.2" fill="#303030" opacity="1.0" filter="url(#b1)"/>
<rect x="349.8" y="348.3" width="12.899999999999977" height="2.4" rx="1.2" fill="#303030" opacity="1.0" filter="url(#b1)"/>
<rect x="365.8" y="348.4" width="12.199999999999989" height="2.2" rx="1.1" fill="#484848" opacity="1.0" filter="url(#b1)"/>
<rect x="382.4" y="348.5" width="11.900000000000034" height="2.0" rx="1.0" fill="#5c5c5c" opacity="1.0" filter="url(#b1)"/>
<rect x="399" y="348.4" width="11" height="2.2" rx="1.1" fill="#4c4c4c" opacity="1.0" filter="url(#b1)"/>
<rect x="414.5" y="348.5" width="12.199999999999989" height="2.0" rx="1.0" fill="#686868" opacity="1.0" filter="url(#b1)"/>
<text x="438.8" y="327.5" font-size="7.8" font-weight="normal" text-anchor="start" fill="#222" stroke="#222" stroke-width="0.3" textLength="33.5" lengthAdjust="spacingAndGlyphs">pERK 1/2</text>
<text x="439.1" y="351.7" font-size="7.8" font-weight="normal" text-anchor="start" fill="#222" stroke="#222" stroke-width="0.3" textLength="28.8" lengthAdjust="spacingAndGlyphs">ERK 1/2</text>
<text transform="translate(327.90000000000003,308.9) rotate(-90)" font-size="8.75" font-weight="normal" text-anchor="start" fill="#1a1a1a" stroke="#1a1a1a" stroke-width="0.3">Control</text>
<text transform="translate(343.5,308.9) rotate(-90)" font-size="8.75" font-weight="normal" text-anchor="start" fill="#1a1a1a" stroke="#1a1a1a" stroke-width="0.3">XII + Zn</text>
<text transform="translate(359.6,308.9) rotate(-90)" font-size="8.75" font-weight="normal" text-anchor="start" fill="#1a1a1a" stroke="#1a1a1a" stroke-width="0.3">XII + Zn + PD98059</text>
<text transform="translate(375.8,308.9) rotate(-90)" font-size="8.75" font-weight="normal" text-anchor="start" fill="#1a1a1a" stroke="#1a1a1a" stroke-width="0.3">XIIa + Zn</text>
<text transform="translate(392.0,308.9) rotate(-90)" font-size="8.75" font-weight="normal" text-anchor="start" fill="#1a1a1a" stroke="#1a1a1a" stroke-width="0.3">XIIa + Zn + PD98059</text>
<text transform="translate(408.1,308.9) rotate(-90)" font-size="8.75" font-weight="normal" text-anchor="start" fill="#1a1a1a" stroke="#1a1a1a" stroke-width="0.3">XIIa + PFRCK + Zn</text>
<text transform="translate(424.8,308.9) rotate(-90)" font-size="8.75" font-weight="normal" text-anchor="start" fill="#1a1a1a" stroke="#1a1a1a" stroke-width="0.3">XIIa + PFRCK + Zn + PD98059</text>
<rect x="317.9" y="427.9" width="159.3" height="36.3" fill="#a6a6a6"/>
<rect x="317.9" y="506.9" width="159.3" height="36.8" fill="#a6a6a6"/>
<text transform="translate(332.1,424.2) rotate(-90)" font-size="9.9" font-weight="normal" text-anchor="start" fill="#111" stroke="#111" stroke-width="0.3">Control</text>
<text transform="translate(347.1,424.2) rotate(-90)" font-size="9.9" font-weight="normal" text-anchor="start" fill="#111" stroke="#111" stroke-width="0.3">XI</text>
<text transform="translate(365.6,424.2) rotate(-90)" font-size="9.9" font-weight="normal" text-anchor="start" fill="#111" stroke="#111" stroke-width="0.3">XIa</text>
<text transform="translate(386.3,424.2) rotate(-90)" font-size="9.9" font-weight="normal" text-anchor="start" fill="#111" stroke="#111" stroke-width="0.3">3 min</text>
<text transform="translate(408.40000000000003,424.2) rotate(-90)" font-size="9.9" font-weight="normal" text-anchor="start" fill="#111" stroke="#111" stroke-width="0.3">5 min</text>
<text transform="translate(428.8,424.2) rotate(-90)" font-size="9.9" font-weight="normal" text-anchor="start" fill="#111" stroke="#111" stroke-width="0.3">7 min</text>
<text transform="translate(447.6,424.2) rotate(-90)" font-size="9.9" font-weight="normal" text-anchor="start" fill="#111" stroke="#111" stroke-width="0.3">10 min</text>
<text transform="translate(467.6,424.2) rotate(-90)" font-size="9.9" font-weight="normal" text-anchor="start" fill="#111" stroke="#111" stroke-width="0.3">15 min</text>
<text transform="translate(329.8,504.0) rotate(-90)" font-size="9.9" font-weight="normal" text-anchor="start" fill="#111" stroke="#111" stroke-width="0.3">Control</text>
<text transform="translate(345.90000000000003,504.0) rotate(-90)" font-size="9.9" font-weight="normal" text-anchor="start" fill="#111" stroke="#111" stroke-width="0.3">XI</text>
<text transform="translate(366.6,504.0) rotate(-90)" font-size="9.9" font-weight="normal" text-anchor="start" fill="#111" stroke="#111" stroke-width="0.3">XIa</text>
<text transform="translate(387.90000000000003,504.0) rotate(-90)" font-size="9.9" font-weight="normal" text-anchor="start" fill="#111" stroke="#111" stroke-width="0.3">3 min</text>
<text transform="translate(408.40000000000003,504.0) rotate(-90)" font-size="9.9" font-weight="normal" text-anchor="start" fill="#111" stroke="#111" stroke-width="0.3">5 min</text>
<text transform="translate(429.40000000000003,504.0) rotate(-90)" font-size="9.9" font-weight="normal" text-anchor="start" fill="#111" stroke="#111" stroke-width="0.3">7 min</text>
<text transform="translate(449.6,504.0) rotate(-90)" font-size="9.9" font-weight="normal" text-anchor="start" fill="#111" stroke="#111" stroke-width="0.3">10 min</text>
<text transform="translate(469.20000000000005,504.0) rotate(-90)" font-size="9.9" font-weight="normal" text-anchor="start" fill="#111" stroke="#111" stroke-width="0.3">15 min</text>
<line x1="299" y1="429.5" x2="313.8" y2="429.5" stroke="#333" stroke-width="1.1"/>
<text x="296.1" y="432.3" font-size="8.2" font-weight="normal" text-anchor="end" fill="#222" stroke="#222" stroke-width="0.3">100</text>
<line x1="299" y1="442.5" x2="313.8" y2="442.5" stroke="#333" stroke-width="1.1"/>
<text x="296.1" y="445.3" font-size="8.2" font-weight="normal" text-anchor="end" fill="#222" stroke="#222" stroke-width="0.3">75</text>
<line x1="299" y1="448.5" x2="313.8" y2="448.5" stroke="#333" stroke-width="1.1"/>
<text x="296.1" y="451.3" font-size="8.2" font-weight="normal" text-anchor="end" fill="#222" stroke="#222" stroke-width="0.3">50</text>
<line x1="299" y1="456.5" x2="313.8" y2="456.5" stroke="#333" stroke-width="1.1"/>
<text x="296.1" y="459.3" font-size="8.2" font-weight="normal" text-anchor="end" fill="#222" stroke="#222" stroke-width="0.3">37</text>
<line x1="299" y1="509.5" x2="313.8" y2="509.5" stroke="#333" stroke-width="1.1"/>
<text x="296.1" y="512.3" font-size="8.2" font-weight="normal" text-anchor="end" fill="#222" stroke="#222" stroke-width="0.3">100</text>
<line x1="299" y1="520.5" x2="313.8" y2="520.5" stroke="#333" stroke-width="1.1"/>
<text x="296.1" y="523.3" font-size="8.2" font-weight="normal" text-anchor="end" fill="#222" stroke="#222" stroke-width="0.3">75</text>
<line x1="299" y1="527.5" x2="313.8" y2="527.5" stroke="#333" stroke-width="1.1"/>
<text x="296.1" y="530.3" font-size="8.2" font-weight="normal" text-anchor="end" fill="#222" stroke="#222" stroke-width="0.3">50</text>
<line x1="299" y1="535.5" x2="313.8" y2="535.5" stroke="#333" stroke-width="1.1"/>
<text x="296.1" y="538.3" font-size="8.2" font-weight="normal" text-anchor="end" fill="#222" stroke="#222" stroke-width="0.3">37</text>
<rect x="336.5" y="439.45" width="13.699999999999989" height="1.5" rx="0.75" fill="#3a3a3a" opacity="1.0" filter="url(#b1)"/>
<rect x="356.7" y="437.8" width="13.0" height="1.0" rx="0.5" fill="#6a6a6a" opacity="1.0" filter="url(#b1)"/>
<rect x="354.2" y="439.0" width="1.1999999999999886" height="8.0" rx="0.5" fill="#979797" opacity="1.0" filter="url(#b1)"/>
<rect x="369.2" y="439.0" width="1.1999999999999886" height="8.0" rx="0.5" fill="#979797" opacity="1.0" filter="url(#b1)"/>
<rect x="353.1" y="446.3" width="18.69999999999999" height="3.0" rx="1.5" fill="#161616" opacity="1.0" filter="url(#b1)"/>
<rect x="353.0" y="454.55" width="16.0" height="1.5" rx="0.75" fill="#404040" opacity="1.0" filter="url(#b1)"/>
<rect x="375.9" y="439.2" width="15.400000000000034" height="2.0" rx="1.0" fill="#222222" opacity="1.0" filter="url(#b1)"/>
<rect x="394.6" y="438.9" width="16.899999999999977" height="2.2" rx="1.1" fill="#252525" opacity="1.0" filter="url(#b1)"/>
<rect x="414.0" y="438.8" width="17.0" height="2.4" rx="1.2" fill="#222222" opacity="1.0" filter="url(#b1)"/>
<rect x="433.1" y="439.0" width="18.099999999999966" height="2.0" rx="1.0" fill="#2a2a2a" opacity="1.0" filter="url(#b1)"/>
<rect x="453.3" y="438.5" width="18.399999999999977" height="4.2" rx="2" fill="#141414" opacity="1.0" filter="url(#b1)"/>
<rect x="455" y="435.75" width="13" height="2.5" rx="1.25" fill="#8a8a8a" opacity="1.0" filter="url(#b1)"/>
<text x="487.7" y="449.0" font-size="9.6" font-weight="normal" text-anchor="start" fill="#111" stroke="#111" stroke-width="0.3" textLength="29.6" lengthAdjust="spacingAndGlyphs">XII + XI</text>
<rect x="333.6" y="517.0" width="18.0" height="2.4" rx="1.2" fill="#222222" opacity="1.0" filter="url(#b1)"/>
<rect x="333.6" y="516.3" width="3.3999999999999773" height="3.4" rx="1.7" fill="#222222" opacity="1.0" filter="url(#b1)"/>
<rect x="355.7" y="514.65" width="14.699999999999989" height="1.5" rx="0.75" fill="#303030" opacity="1.0" filter="url(#b1)"/>
<path d="M356.5,518.2 L369.5,518.2 L371.6,523 Q373,529.5 368,529.8 L357,529.8 Q351.5,529.5 352.8,523 Z" fill="url(#xia)" opacity="1.0" filter="url(#b3)"/>
<rect x="353.1" y="534.7" width="17.299999999999955" height="2.0" rx="1.0" fill="#262626" opacity="1.0" filter="url(#b1)"/>
<rect x="376.2" y="517.85" width="15.600000000000023" height="2.3" rx="1.15" fill="#222222" opacity="1.0" filter="url(#b1)"/>
<rect x="394.6" y="516.7" width="18.299999999999955" height="4.6" rx="2" fill="#1a1a1a" opacity="1.0" filter="url(#b1)"/>
<rect x="396" y="525.9" width="15" height="1.0" rx="0.5" fill="#6a6a6a" opacity="1.0" filter="url(#b1)"/>
<rect x="396" y="527.6" width="15" height="1.0" rx="0.5" fill="#7a7a7a" opacity="1.0" filter="url(#b1)"/>
<path d="M414.8,529.8 L414.8,514 Q415.5,510.5 419,510.8 Q422,511.8 425,510.6 Q429,509.8 431.5,511.5 Q433.2,513 433.1,516 L433.1,529.8 Z" fill="#2c2c2c" opacity="1.0" filter="url(#b2)"/>
<rect x="415.5" y="523.5" width="17.0" height="1.0" rx="0.5" fill="#4a4a4a" opacity="1.0" filter="url(#b1)"/>
<rect x="415.5" y="526.8000000000001" width="17.0" height="0.8" rx="0.4" fill="#4a4a4a" opacity="1.0" filter="url(#b1)"/>
<rect x="418" y="511.25" width="3" height="2.5" rx="1.25" fill="#505050" opacity="1.0" filter="url(#b1)"/>
<rect x="433.9" y="516.7" width="19.400000000000034" height="4.6" rx="2" fill="#1c1c1c" opacity="1.0" filter="url(#b1)"/>
<rect x="435" y="522.5" width="17" height="1.0" rx="0.5" fill="#8c8c8c" opacity="1.0" filter="url(#b1)"/>
<rect x="435" y="527.5" width="17" height="1.0" rx="0.5" fill="#8c8c8c" opacity="1.0" filter="url(#b1)"/>
<rect x="454.8" y="515.8" width="21.599999999999966" height="5.0" rx="2" fill="#181818" opacity="1.0" filter="url(#b1)"/>
<rect x="457" y="527.1" width="18" height="2.0" rx="1.0" fill="#262626" opacity="1.0" filter="url(#b1)"/>
<text x="483.7" y="526.0" font-size="9.6" font-weight="normal" text-anchor="start" fill="#111" stroke="#111" stroke-width="0.3" textLength="35.0" lengthAdjust="spacingAndGlyphs">XIIa + XI</text>
</svg>
</body></html>
